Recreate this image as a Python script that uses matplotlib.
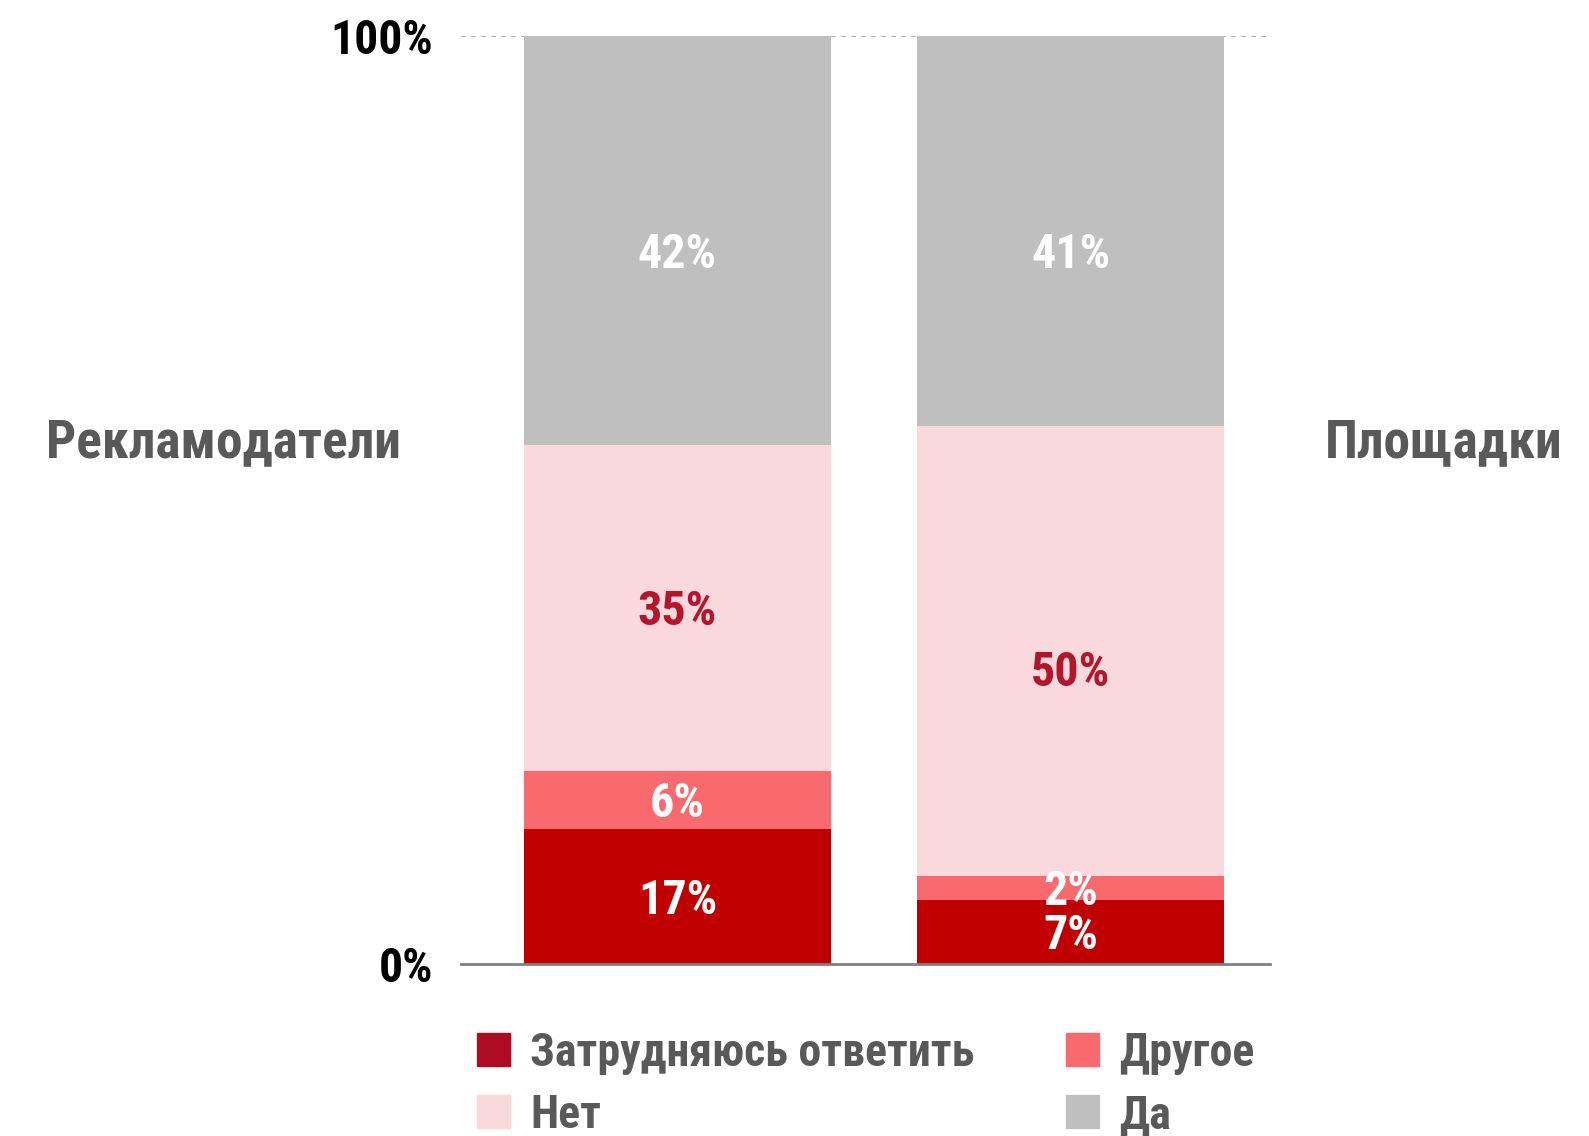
import matplotlib
matplotlib.use('Agg')
import matplotlib.pyplot as plt
from matplotlib.patches import Rectangle
from matplotlib import font_manager

# узкий жирный шрифт с кириллицей — первый, у которого есть статический bold
candidates = ['Roboto Condensed', 'PT Sans Narrow', 'Fira Sans Condensed',
              'IBM Plex Sans Condensed', 'Open Sans Condensed', 'Liberation Sans Narrow']
bold_names = set()
for f in font_manager.fontManager.ttflist:
    w = f.weight
    if (isinstance(w, int) and w >= 600) or w in ('bold', 'heavy', 'black'):
        bold_names.add(f.name)
font_name = 'DejaVu Sans'
for c in candidates:
    if c in bold_names:
        font_name = c
        break
plt.rcParams['font.family'] = [font_name, 'DejaVu Sans']
plt.rcParams['font.weight'] = 'bold'

groups = ['Рекламодатели', 'Площадки']
series = ['Затрудняюсь ответить', 'Другое', 'Нет', 'Да']
# высоты сегментов, как они нарисованы на исходной картинке
heights = {
    'Затрудняюсь ответить': [14.55, 6.9],
    'Другое': [6.25, 2.6],
    'Нет': [35.1, 48.5],
    'Да': [44.1, 42.0],
}
# подписи на сегментах
labels = {
    'Затрудняюсь ответить': ['17%', '7%'],
    'Другое': ['6%', '2%'],
    'Нет': ['35%', '50%'],
    'Да': ['42%', '41%'],
}
bar_colors = ['#C00000', '#F86A6E', '#F9D9DC', '#BFBFBF']
legend_colors = ['#AD0C23', '#F86A6E', '#F9D9DC', '#BFBFBF']
label_colors = ['white', 'white', '#B5152B', 'white']
# в исходнике некоторые подписи стоят не по центру сегмента
label_y_fix = {('Да', 0): 76.9, ('Да', 1): 76.9, ('Нет', 1): 31.8}

W, H = 1589, 1136
fig = plt.figure(figsize=(W / 100, H / 100), dpi=100)
renderer = fig.canvas.get_renderer()


def fit_size(text, target_px):
    # подбираем кегль так, чтобы ширина строки была как на исходнике
    t = fig.text(0, 0, text, fontsize=10, fontweight='bold')
    w = t.get_window_extent(renderer).width
    t.remove()
    return 10 * target_px / w


fs_val = fit_size('17%', 80)
fs_tick = fit_size('100%', 103)
fs_side = fit_size(groups[0], 354)
fs_leg = fit_size(series[0], 444)

ax = fig.add_axes([461 / W, 172 / H, 809 / W, 928 / H])

x = [0, 1]
bottom = [0, 0]
for s, c, lc in zip(series, bar_colors, label_colors):
    v = heights[s]
    ax.bar(x, v, bottom=bottom, width=0.78, color=c, zorder=2)
    for i in range(2):
        y = label_y_fix.get((s, i), bottom[i] + v[i] / 2)
        ax.annotate(labels[s][i], (x[i], y),
                    xytext=(0, -0.36 * fs_val), textcoords='offset points',
                    ha='center', va='baseline', color=lc, fontsize=fs_val,
                    fontweight='bold', zorder=3)
    bottom = [bottom[i] + v[i] for i in range(2)]

ax.set_xlim(-0.55, 1.506)
ax.set_ylim(0, 100)
ax.axhline(100, color='#A6A6A6', lw=1.2, ls=(0, (3, 3)), zorder=1)
for sp in ['top', 'right', 'left']:
    ax.spines[sp].set_visible(False)
ax.spines['bottom'].set_color('#808080')
ax.spines['bottom'].set_linewidth(2)
ax.set_xticks([])
ax.set_yticks([0, 100])
ax.set_yticklabels(['0%', '100%'], fontsize=fs_tick, fontweight='bold', color='black')
ax.tick_params(axis='y', length=0, pad=20)

# подписи групп по бокам
fig.text(46 / W, 1 - 457 / H, groups[0], ha='left', va='baseline', fontsize=fs_side,
         fontweight='bold', color='#595959')
fig.text(1563 / W, 1 - 457 / H, groups[1], ha='right', va='baseline', fontsize=fs_side,
         fontweight='bold', color='#595959')

# легенда
leg_pos = [(477, 1033), (1066, 1033), (477, 1095), (1066, 1095)]
for s, c, (px, py) in zip(series, legend_colors, leg_pos):
    fig.add_artist(Rectangle((px / W, 1 - (py + 33) / H), 33 / W, 33 / H,
                             transform=fig.transFigure, color=c))
    fig.text((px + 53) / W, 1 - (py + 33) / H, s, ha='left', va='baseline',
             fontsize=fs_leg, fontweight='bold', color='#595959')

fig.savefig('out.png', dpi=100)
